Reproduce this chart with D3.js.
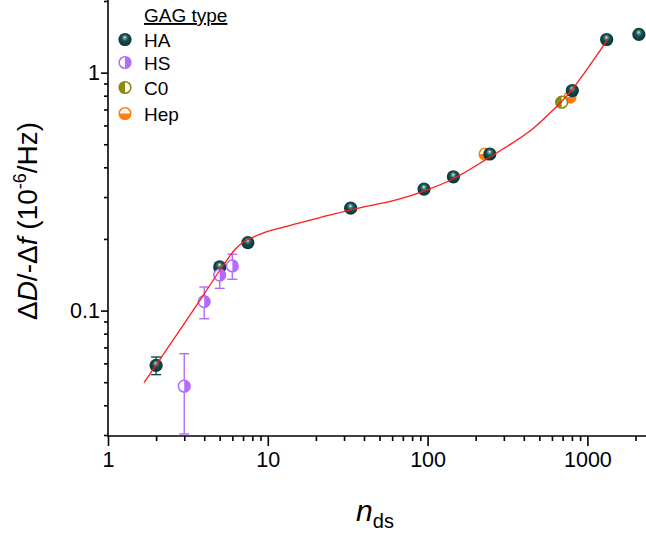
<!DOCTYPE html>
<html><head><meta charset="utf-8">
<script src="https://cdn.jsdelivr.net/npm/d3@7"></script>
<style>body{margin:0;background:#fff} svg{display:block}</style>
</head><body><svg id="c" width="646" height="533"></svg>
<script>
// ---- data ----
const haN   = [2, 5, 7.5, 33, 95, 145, 245, 805, 1320, 2100];
const haV   = [0.0588, 0.1525, 0.193, 0.2695, 0.324, 0.365, 0.455, 0.841, 1.378, 1.447];
const haErr = [0.005, 0.006, 0, 0, 0, 0, 0, 0, 0, 0];
const hsN   = [3, 4, 5, 6];
const hsV   = [0.0481, 0.109, 0.141, 0.154];
const hsErr = [0.0178, 0.0166, 0.017, 0.0186];
const c0N   = [690];
const c0V   = [0.751];
const hepN  = [229, 778];
const hepV  = [0.455, 0.789];
const fitN  = [1.68, 2, 3, 4.05, 5.02, 5.64, 6.23, 6.9, 7.74, 9.33, 11.9, 15.2, 21.2, 32.7, 64.4, 95, 144, 246, 437, 583, 704, 813, 966, 1345];
const fitV  = [0.0498, 0.059, 0.0882, 0.1191, 0.1481, 0.1655, 0.1805, 0.1923, 0.2009, 0.2118, 0.2223, 0.2321, 0.246, 0.2646, 0.2928, 0.318, 0.3573, 0.4418, 0.5684, 0.6765, 0.7674, 0.8576, 1.006, 1.384];
const xMajor = [1, 10, 100, 1000];
const xMajorLabels = ["1", "10", "100", "1000"];
const xMinor = [2,3,4,5,6,7,8,9,20,30,40,50,60,70,80,90,200,300,400,500,600,700,800,900,2000];
const yMajor = [0.1, 1];
const yMajorLabels = ["0.1", "1"];
const yMinor = [0.03,0.04,0.05,0.06,0.07,0.08,0.09,0.2,0.3,0.4,0.5,0.6,0.7,0.8,0.9,2];
const legendNames = ["HA", "HS", "C0", "Hep"];

const colHA = "#0f4a4a", colHS = "#b36bff", colC0 = "#8a8a0e", colHep = "#ff7f0f";
const FONT = "'Liberation Sans', Arial, sans-serif";

const svg = d3.select("#c");
const x = d3.scaleLog().domain([1, 2300]).range([108, 645.2]);
const y = d3.scaleLog().domain([0.03, 2]).range([435, 1]);

const defs = svg.append("defs");
const g = defs.append("radialGradient").attr("id","haGrad").attr("cx","50%").attr("cy","45%").attr("r","55%").attr("fx","48%").attr("fy","32%");
g.append("stop").attr("offset","0%").attr("stop-color","#f0ffff");
g.append("stop").attr("offset","18%").attr("stop-color","#6d9a9a");
g.append("stop").attr("offset","45%").attr("stop-color","#15504f");
g.append("stop").attr("offset","100%").attr("stop-color","#083333");

// axes
const xAxisG = svg.append("g").attr("transform","translate(0,436)");
xAxisG.append("g").call(d3.axisBottom(x).tickValues(xMinor).tickSize(5).tickFormat(""));
xAxisG.append("g").call(d3.axisBottom(x).tickValues(xMajor).tickSize(10).tickFormat((d,i)=>xMajorLabels[i]).tickPadding(6));
xAxisG.selectAll(".domain").remove();
xAxisG.append("line").attr("x1",107).attr("x2",646).attr("y1",0).attr("y2",0);

const yAxisG = svg.append("g").attr("transform","translate(108,0)");
yAxisG.append("g").call(d3.axisLeft(y).tickValues(yMinor).tickSize(4).tickFormat(""));
yAxisG.append("g").call(d3.axisLeft(y).tickValues(yMajor).tickSize(7).tickFormat((d,i)=>yMajorLabels[i]).tickPadding(1));
yAxisG.selectAll(".domain").remove();
yAxisG.append("line").attr("x1",0).attr("x2",0).attr("y1",0).attr("y2",437);

svg.selectAll("line").attr("stroke","#000").attr("stroke-width",1.6);
svg.selectAll(".tick text").attr("font-family",FONT).attr("font-size",21.5).attr("fill","#000");

// markers
const R = 6.6;
function sphere(sel){ sel.append("circle").attr("r",R).attr("fill","url(#haGrad)"); }
function halfMarker(sel, col, path){
  sel.append("circle").attr("r",R-0.75).attr("fill","#fff").attr("stroke",col).attr("stroke-width",1.5);
  sel.append("path").attr("d",path).attr("fill",col);
}
const rr = R-0.75;
const pathHS  = `M0,${-rr}A${rr},${rr} 0 0 1 0,${rr}Z`;
const pathC0  = `M0,${-rr}A${rr},${rr} 0 0 0 0,${rr}Z`;
const pathHep = `M${-rr},0A${rr},${rr} 0 0 0 ${rr},0Z`;

function errBars(ns, vs, es, col){
  const gE = svg.append("g").attr("stroke",col).attr("stroke-width",1.4);
  ns.forEach((n,i)=>{
    if(!es[i]) return;
    const cx = x(n), y1 = y(vs[i]+es[i]), y2 = y(Math.max(vs[i]-es[i],0.0301));
    gE.append("line").attr("x1",cx).attr("x2",cx).attr("y1",y1).attr("y2",y2);
    gE.append("line").attr("x1",cx-5).attr("x2",cx+5).attr("y1",y1).attr("y2",y1);
    gE.append("line").attr("x1",cx-5).attr("x2",cx+5).attr("y1",y2).attr("y2",y2);
  });
}

errBars(haN, haV, haErr, colHA);
errBars(hsN, hsV, hsErr, colHS);

hepN.forEach((n,i)=>{ halfMarker(svg.append("g").attr("transform",`translate(${x(n)},${y(hepV[i])})`), colHep, pathHep); });
c0N.forEach((n,i)=>{ halfMarker(svg.append("g").attr("transform",`translate(${x(n)},${y(c0V[i])})`), colC0, pathC0); });
haN.forEach((n,i)=>{ sphere(svg.append("g").attr("transform",`translate(${x(n)},${y(haV[i])})`)); });
hsN.forEach((n,i)=>{ halfMarker(svg.append("g").attr("transform",`translate(${x(n)},${y(hsV[i])})`), colHS, pathHS); });

// fit curve
const fitData = fitN.map((n,i)=>[n, fitV[i]]);
svg.append("path").datum(fitData)
  .attr("d", d3.line().x(d=>x(d[0])).y(d=>y(d[1])).curve(d3.curveCatmullRom.alpha(0.5)))
  .attr("fill","none").attr("stroke","#ff1a1a").attr("stroke-width",1.3);

// legend
const leg = svg.append("g");
leg.append("text").attr("x",144).attr("y",22).attr("font-family",FONT).attr("font-size",19)
  .attr("text-decoration","underline").text("GAG type");
const legY = [39.5, 62.5, 87.5, 113.5];
legendNames.forEach((nm,i)=>{
  const mg = leg.append("g").attr("transform",`translate(125,${legY[i]})`);
  if(i===0) sphere(mg);
  else if(i===1) halfMarker(mg, colHS, pathHS);
  else if(i===2) halfMarker(mg, colC0, pathC0);
  else halfMarker(mg, colHep, pathHep);
  leg.append("text").attr("x",144).attr("y",legY[i]+7).attr("font-family",FONT).attr("font-size",19).text(nm);
});

// axis titles
const yt = svg.append("text").attr("transform","translate(37,221) rotate(-90)")
  .attr("text-anchor","middle").attr("font-family",FONT).attr("font-size",28);
yt.append("tspan").text("Δ");
yt.append("tspan").attr("font-style","italic").text("D");
yt.append("tspan").text("/-Δ");
yt.append("tspan").attr("font-style","italic").text("f");
yt.append("tspan").text(" (10");
yt.append("tspan").attr("font-size",18).attr("dy",-11).text("-6");
yt.append("tspan").attr("dy",11).text("/Hz)");

const xt = svg.append("text").attr("x",375).attr("y",521).attr("text-anchor","middle").attr("font-family",FONT);
xt.append("tspan").attr("font-style","italic").attr("font-size",30).text("n");
xt.append("tspan").attr("font-size",20).attr("dy",7).text("ds");
</script></body></html>
